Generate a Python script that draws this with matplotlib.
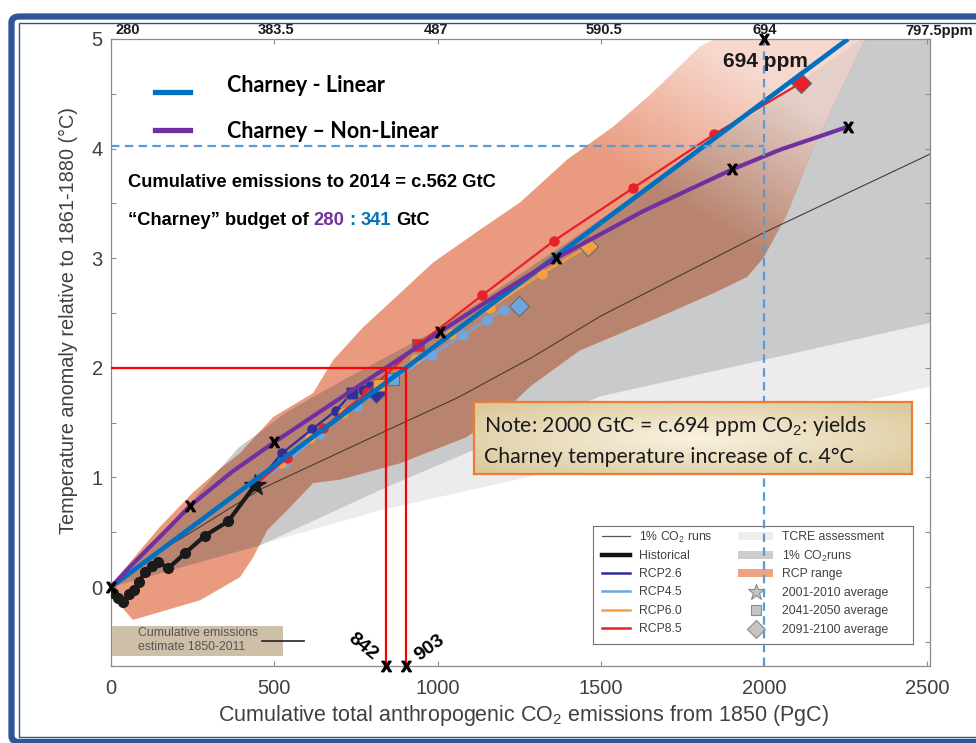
import numpy as np
import matplotlib
matplotlib.use("Agg")
import matplotlib.pyplot as plt
import matplotlib.transforms as mtrans
from matplotlib.patches import Polygon, Rectangle, FancyBboxPatch
from matplotlib.lines import Line2D

plt.rcParams['font.family'] = ['Liberation Sans', 'DejaVu Sans']
plt.rcParams['mathtext.fontset'] = 'custom'
plt.rcParams['mathtext.rm'] = 'Liberation Sans'
plt.rcParams['mathtext.it'] = 'Liberation Sans:italic'
plt.rcParams['mathtext.bf'] = 'Liberation Sans:bold'

# ---------------- data ----------------
x_ticks = [0, 500, 1000, 1500, 2000, 2500]
y_ticks = [0, 1, 2, 3, 4, 5]
top_labels = ['280', '383.5', '487', '590.5', '694', '797.5ppm']

# Historical (decadal means) ending at 2001-2010 star
hist_x = [5, 20, 37, 55, 70, 87, 104, 125, 145, 175, 227, 288, 359, 441]
hist_y = [-0.05, -0.10, -0.14, -0.06, -0.03, 0.05, 0.14, 0.19, 0.23, 0.17, 0.31, 0.47, 0.60, 0.93]

# RCPs: 2001-2010 ... 2091-2100 decadal means
rcp26_x = [441, 523, 616, 689, 737, 772, 793, 805, 809, 812]
rcp26_y = [0.93, 1.22, 1.44, 1.61, 1.77, 1.80, 1.83, 1.81, 1.79, 1.77]
rcp45_x = [441, 533, 640, 752, 865, 982, 1079, 1151, 1202, 1248]
rcp45_y = [0.93, 1.13, 1.40, 1.65, 1.90, 2.12, 2.30, 2.44, 2.53, 2.56]
rcp60_x = [441, 520, 610, 710, 820, 930, 1040, 1161, 1319, 1462]
rcp60_y = [0.93, 1.13, 1.36, 1.59, 1.84, 2.08, 2.31, 2.55, 2.86, 3.11]
rcp85_x = [441, 540, 650, 785, 940, 1136, 1357, 1599, 1847, 2113]
rcp85_y = [0.93, 1.18, 1.45, 1.78, 2.21, 2.66, 3.16, 3.64, 4.13, 4.60]

# 1% CO2 runs (thin line)
pct_x = [0, 145, 273, 456, 845, 1063, 1292, 1498, 1997, 2508]
pct_y = [0, 0.32, 0.55, 0.89, 1.43, 1.73, 2.10, 2.47, 3.23, 3.95]

# TCRE assessment range
tcre_x = [0, 2000, 2508, 2508, 824]
tcre_y = [0, 5.0, 5.0, 1.83, 0.70]

# 1% CO2 runs range
gray_x = [0, 200, 390, 540, 700, 1000, 1400, 1800, 2300, 2508, 2508, 1498, 850, 456]
gray_y = [0, 0.62, 1.27, 1.60, 1.87, 2.35, 3.15, 3.98, 5.0, 5.0, 2.41, 1.74, 0.92, 0.38]

# RCP range
rcp_rng_x = [0, 150, 250, 330, 395, 496, 619, 680, 772, 885, 986, 1130, 1253, 1397, 1538, 1651, 1804, 1850,
             2310, 2150, 2070, 1997, 1948, 1844, 1660, 1436, 1283, 1231, 1090, 885, 701, 619, 539, 478,
             435, 395, 273, 67, 6]
rcp_rng_y = [0.02, 0.55, 0.86, 1.07, 1.22, 1.55, 1.77, 2.07, 2.37, 2.68, 2.96, 3.26, 3.51, 3.90, 4.20, 4.49, 4.93, 5.0,
             5.0, 4.0, 3.4, 3.0, 2.83, 2.68, 2.44, 2.16, 1.83, 1.68, 1.37, 1.13, 0.98, 0.95, 0.70, 0.52,
             0.27, 0.09, -0.12, -0.30, -0.09]

# Charney lines
lin_x = [0, 2257]
lin_y = [0, 5.0]
nl_x = [0, 60, 120, 180, 242, 370, 499, 680, 842, 1008, 1180, 1363, 1630, 1902, 2049, 2257]
nl_y = [0, 0.19, 0.37, 0.55, 0.74, 1.05, 1.32, 1.68, 2.0, 2.33, 2.66, 3.0, 3.43, 3.81, 3.99, 4.20]
nl_mark_x = [0, 242, 499, 1008, 1363, 1902, 2257]
nl_mark_y = [0, 0.74, 1.32, 2.33, 3.0, 3.81, 4.20]

budget_nl, budget_lin, target_t = 842, 903, 2.0
em_694, t_694 = 2000, 4.02

# ---------------- figure ----------------
W, H = 976, 743
fig = plt.figure(figsize=(W / 100, H / 100), dpi=100)


def fx(px):
    return px / W


def fy(py):
    return 1 - py / H


XMAX, YMIN, YMAX = 2508, -0.72, 5.0
ax = fig.add_axes([fx(111), fy(666), (930 - 111) / W, (666 - 39) / H])

C_TCRE = '#ececee'
C_GRAY = '#c9cacc'
C_SALMON = '#e99a7f'
C_BROWN = '#b9846f'

ax.add_patch(Polygon(np.column_stack([tcre_x, tcre_y]), closed=True, fc=C_TCRE, ec='none', zorder=1.0))
ax.add_patch(Polygon(np.column_stack([gray_x, gray_y]), closed=True, fc=C_GRAY, ec='none', zorder=1.1))
salmon = Polygon(np.column_stack([rcp_rng_x, rcp_rng_y]), closed=True, fc=C_SALMON, ec='none', zorder=1.2)
ax.add_patch(salmon)
brown = Polygon(np.column_stack([gray_x, gray_y]), closed=True, fc=C_BROWN, ec='none', zorder=1.3)
ax.add_patch(brown)
brown.set_clip_path(salmon)

# fading of the range toward the upper right
gx, gy = np.meshgrid(np.linspace(0, XMAX, 300), np.linspace(YMIN, YMAX, 300))
s = np.clip((gy - 3.3) / 1.6 + (gx - 1850) / 900, 0, 1)
rgba = np.ones((300, 300, 4))
rgba[..., 3] = 0.62 * s
im = ax.imshow(rgba, extent=[0, XMAX, YMIN, YMAX], origin='lower', aspect='auto',
               interpolation='bilinear', zorder=1.4)
im.set_clip_path(salmon)

# 1% runs line
ax.plot(pct_x, pct_y, color='#4a3a34', lw=0.8, zorder=2)

# RCPs
rcps = [(rcp26_x, rcp26_y, '#2e2f9a'), (rcp45_x, rcp45_y, '#6fa6dc'),
        (rcp60_x, rcp60_y, '#f4a040'), (rcp85_x, rcp85_y, '#e8202a')]
for xs, ys, c in rcps:
    ax.plot(xs, ys, color=c, lw=1.6, zorder=3)
    dots = [1, 2, 3, 5, 6, 7, 8]
    ax.plot([xs[i] for i in dots], [ys[i] for i in dots], ls='none', marker='o', ms=6.5,
            color=c, zorder=3)
    ax.plot(xs[4], ys[4], ls='none', marker='s', ms=9, mfc=c, mec='#6a6a6a', mew=0.8, zorder=3.1)
    ax.plot(xs[9], ys[9], ls='none', marker='D', ms=10, mfc=c, mec='#6a6a6a', mew=0.8, zorder=3.1)

# historical
ax.plot(hist_x, hist_y, color='#1a1a1a', lw=3, marker='o', ms=7, zorder=3.5)
ax.plot(hist_x[-1], hist_y[-1], ls='none', marker='*', ms=16, color='#1a1a1a', zorder=3.6)

# Charney lines
ax.plot(lin_x, lin_y, color='#0070c0', lw=3.4, zorder=4, solid_capstyle='butt')
ax.plot(nl_x, nl_y, color='#7030a0', lw=3.0, zorder=4.1)

# red budget lines
ax.plot([0, budget_lin], [target_t, target_t], color='#ff0000', lw=1.6, zorder=6)
ax.plot([budget_nl, budget_nl], [YMIN, target_t], color='#ff0000', lw=1.6, zorder=6, clip_on=False)
ax.plot([budget_lin, budget_lin], [YMIN, target_t], color='#ff0000', lw=1.6, zorder=6, clip_on=False)

# blue dashed 694 ppm lines
ax.plot([0, em_694], [t_694, t_694], color='#5b9bd5', lw=1.6, dashes=(3.8, 2.4), zorder=6)
ax.plot([em_694, em_694], [YMIN, YMAX], color='#5b9bd5', lw=1.6, dashes=(3.8, 2.4), zorder=6)

# X markers
xm = r'$\mathbf{X}$'
ax.plot(nl_mark_x, nl_mark_y, ls='none', marker=xm, ms=7.5, color='black', zorder=8, clip_on=False)
ax.plot([em_694, budget_nl, budget_lin], [YMAX, YMIN, YMIN], ls='none', marker=xm, ms=7.5,
        color='black', zorder=8, clip_on=False)

ax.set_xlim(0, XMAX)
ax.set_ylim(YMIN, YMAX)
ax.set_xticks(x_ticks)
ax.set_xticklabels([str(v) for v in x_ticks])
ax.set_yticks(y_ticks)
ax.set_yticks(np.arange(-0.5, 5.01, 0.5), minor=True)
ax.tick_params(axis='both', which='both', direction='in', length=3.6, color='#8c8c8c',
               width=0.8, top=True, right=True, labelsize=14.5, labelcolor='#404040')
ax.tick_params(axis='x', pad=9)
ax.tick_params(axis='y', pad=6)
for sp in ax.spines.values():
    sp.set_color('#8c8c8c')
    sp.set_linewidth(0.9)

# top ppm labels
top_off = [(4, 'left'), (2, 'center'), (-2, 'center'), (3, 'center'), (1, 'center'), (12, 'center')]
for v, lab, (off, ha) in zip(x_ticks, top_labels, top_off):
    tr = mtrans.blended_transform_factory(ax.transData, ax.transAxes) + \
        mtrans.ScaledTranslation(off / 100, 1.5 / 100, fig.dpi_scale_trans)
    ax.text(v, 1.0, lab, transform=tr, ha=ha, va='bottom', fontsize=10.5, fontweight='bold',
            color='#1a1a1a', clip_on=False)

# axis labels
fig.text(fx(523), fy(716), r'Cumulative total anthropogenic CO$_2$ emissions from 1850 (PgC)',
         ha='center', va='center', fontsize=15.5, color='#404040')
fig.text(fx(68), fy(320), 'Temperature anomaly relative to 1861-1880 (°C)', rotation=90,
         ha='center', va='center', fontsize=14.3, color='#404040')

# budget labels
ax.text(772, -0.54, '842', rotation=-39, ha='center', va='center', fontsize=14,
        fontweight='bold', color='black', zorder=8, clip_on=False)
ax.text(977, -0.55, '903', rotation=36, ha='center', va='center', fontsize=14,
        fontweight='bold', color='black', zorder=8, clip_on=False)

# 694 ppm label
fig.text(fx(723), fy(67), '694 ppm', fontsize=15, fontweight='bold', color='#1a1a1a', va='baseline')

# Charney legend
fig.add_artist(Line2D([fx(155), fx(190)], [fy(91.5)] * 2, color='#0070c0', lw=3.8))
fig.add_artist(Line2D([fx(155), fx(190)], [fy(129.5)] * 2, color='#7030a0', lw=3.8))
fig.text(fx(227), fy(92), 'Charney - Linear', family=['Lato', 'DejaVu Sans'], fontweight='bold',
         fontsize=15.5, va='baseline', color='black')
fig.text(fx(227), fy(138), 'Charney \u2013 Non-Linear', family=['Lato', 'DejaVu Sans'],
         fontweight='bold', fontsize=15.5, va='baseline', color='black')

fig.text(fx(128), fy(187), 'Cumulative emissions to 2014 = c.562 GtC', fontsize=13.2,
         fontweight='bold', va='baseline', color='black')

# multi-coloured budget line
pieces = [('\u201cCharney\u201d budget of', 'black'), ('280', '#7030a0'), (':', '#0070c0'),
          ('341', '#0070c0'), ('GtC', 'black')]
fig.canvas.draw()
r = fig.canvas.get_renderer()
xcur = 128
for txt, col in pieces:
    t = fig.text(fx(xcur), fy(225), txt, fontsize=13.2, fontweight='bold', va='baseline', color=col)
    bb = t.get_window_extent(renderer=r)
    xcur = bb.x1 + 5

# cumulative emissions box
ax.add_patch(Rectangle((fx(112), fy(656)), (283 - 112) / W, (656 - 626) / H, transform=fig.transFigure,
                       fc='#cdbfa8', ec='none', zorder=7, clip_on=False))
fig.text(fx(138), fy(632.5), 'Cumulative emissions', fontsize=8.8, color='#555555', va='center')
fig.text(fx(138), fy(647.5), 'estimate 1850-2011', fontsize=8.8, color='#555555', va='center')
fig.add_artist(Line2D([fx(262), fx(304)], [fy(641)] * 2, color='#222222', lw=1.2))

# IPCC legend box (inset)
lax = ax.inset_axes([fx(593), fy(644), 320 / W, 118 / H], transform=fig.transFigure, zorder=5)
lax.set_xlim(0, 320)
lax.set_ylim(118, 0)
lax.set_xticks([])
lax.set_yticks([])
for sp in lax.spines.values():
    sp.set_color('#707070')
    sp.set_linewidth(0.8)
rows = [10, 29, 47, 65, 84, 102]
left_items = [('1% CO$_2$ runs', '#555555', 0.9), ('Historical', '#111111', 3.2),
              ('RCP2.6', '#2e2f9a', 1.8), ('RCP4.5', '#6fa6dc', 1.8),
              ('RCP6.0', '#f4a040', 1.8), ('RCP8.5', '#e8202a', 1.8)]
for yy, (lab, c, lw) in zip(rows, left_items):
    lax.plot([9, 37], [yy, yy], color=c, lw=lw)
    lax.text(46, yy + 1, lab, fontsize=8.8, color='#404040', va='center')
patch_items = [('TCRE assessment', '#ededed'), ('1% CO$_2$runs', '#cdcdcd'), ('RCP range', '#eda283')]
for yy, (lab, c) in zip(rows[:3], patch_items):
    lax.add_patch(Rectangle((145, yy - 4), 35, 8, fc=c, ec='none'))
    lax.text(189, yy + 1, lab, fontsize=8.8, color='#404040', va='center')
mk_items = [('2001-2010 average', '*', 12), ('2041-2050 average', 's', 7.5), ('2091-2100 average', 'D', 9.5)]
for yy, (lab, m, ms) in zip([66, 84, 103], mk_items):
    lax.plot([163], [yy], ls='none', marker=m, ms=ms, mfc='#c4c4c4', mec='#8a8a8a', mew=0.8)
    lax.text(189, yy + 1, lab, fontsize=8.8, color='#404040', va='center')

# Note box
nax = ax.inset_axes([fx(474), fy(474), 438 / W, 72 / H], transform=fig.transFigure, zorder=7)
u, v = np.meshgrid(np.linspace(-1, 1, 200), np.linspace(-1, 1, 60))
rr = np.clip(np.sqrt(u ** 2 + v ** 2) / 1.3, 0, 1)[..., None]
light = np.array([0.98, 0.95, 0.88])
dark = np.array([0.86, 0.79, 0.62])
nax.imshow(light * (1 - rr) + dark * rr, extent=[0, 1, 0, 1], aspect='auto', interpolation='bilinear')
nax.set_xticks([])
nax.set_yticks([])
for sp in nax.spines.values():
    sp.set_color('#ed7d31')
    sp.set_linewidth(1.6)
fig.text(fx(484), fy(432), 'Note: 2000 GtC = c.694 ppm CO$_2$: yields', family=['Lato', 'DejaVu Sans'],
         fontsize=15.3, va='baseline', color='#1a1a1a')
fig.text(fx(484), fy(463), 'Charney temperature increase of c. 4°C', family=['Lato', 'DejaVu Sans'],
         fontsize=15.3, va='baseline', color='#1a1a1a')

# outer frame
fig.patches.append(FancyBboxPatch((fx(11.5), fy(742)), (1000 - 11.5) / W, (742 - 16.5) / H,
                                  boxstyle='round,pad=0,rounding_size=0.008', transform=fig.transFigure,
                                  fc='none', ec='#2f5597', lw=4.5))
fig.patches.append(FancyBboxPatch((fx(18.5), fy(736.5)), (1000 - 18.5) / W, (736.5 - 23) / H,
                                  boxstyle='square,pad=0', transform=fig.transFigure,
                                  fc='none', ec='#2f5597', lw=1.0))

fig.savefig('out.png', dpi=100)
